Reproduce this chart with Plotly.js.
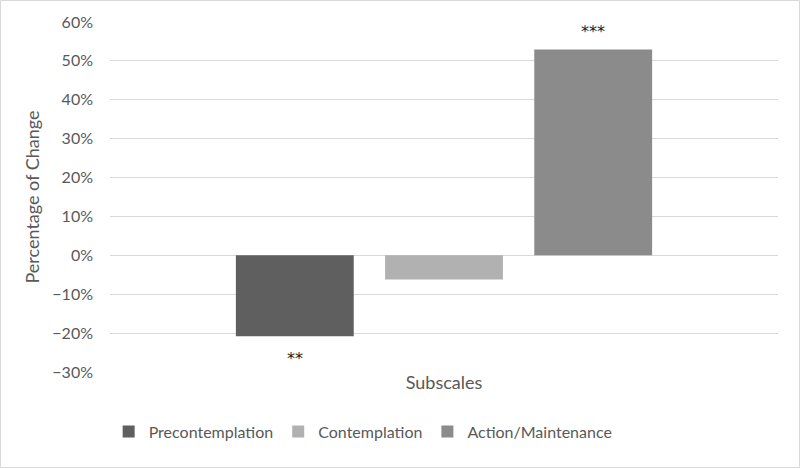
<!DOCTYPE html>
<html>
<head>
<meta charset="utf-8">
<script src="https://cdn.plot.ly/plotly-3.0.1.min.js"></script>
<style>
  html, body { margin: 0; padding: 0; background: #fff; }
  #chart { width: 800px; height: 468px; }
</style>
</head>
<body>
<div id="chart"></div>
<script>
    // Dữ liệu
    const categories = ['Subscales'];
    const seriesNames = ['Precontemplation', 'Contemplation', 'Action/Maintenance'];
    const seriesValues = [-0.208, -0.062, 0.529];
    const seriesMarks = ['**', '', '***'];
    const seriesColors = ['#5f5f5f', '#b1b1b1', '#8b8b8b'];
    const yTicks = [-0.3, -0.2, -0.1, 0, 0.1, 0.2, 0.3, 0.4, 0.5, 0.6];

    const fontFamily = 'Lato, "Open Sans", sans-serif';
    const textGray = '#595959';
    const barGap = 0.33;

    const traces = seriesNames.map((name, i) => ({
        type: 'bar',
        name: name,
        x: categories,
        y: [seriesValues[i]],
        marker: { color: seriesColors[i] },
        hoverinfo: 'none'
    }));

    // Dấu sao ý nghĩa thống kê, đặt theo vị trí cột trong nhóm
    const slot = (1 - barGap) / seriesNames.length;
    const annotations = seriesMarks.map((m, i) => ({
        xref: 'x', yref: 'y',
        x: (i - (seriesNames.length - 1) / 2) * slot,
        y: seriesValues[i],
        text: m,
        showarrow: false,
        yshift: seriesValues[i] >= 0 ? 18 : -22,
        font: { family: 'DejaVu Sans, sans-serif', size: 16, color: '#222' }
    })).filter(a => a.text);

    const layout = {
        width: 800,
        height: 468,
        paper_bgcolor: '#fff',
        plot_bgcolor: '#fff',
        font: { family: fontFamily, color: textGray, size: 15 },
        margin: { t: 22, r: 22, b: 96, l: 110 },
        barmode: 'group',
        bargap: barGap,
        bargroupgap: 0.21,
        showlegend: true,
        legend: {
            orientation: 'h',
            x: -0.002,
            xanchor: 'left',
            y: -0.17,
            yanchor: 'middle',
            font: { family: fontFamily, size: 16, color: textGray },
            itemclick: false
        },
        xaxis: {
            showticklabels: false,
            showline: false,
            ticks: '',
            title: { text: 'Subscales', standoff: 4, font: { family: fontFamily, size: 18, color: textGray } },
            automargin: false
        },
        yaxis: {
            range: [-0.3, 0.6],
            tickvals: yTicks,
            tickformat: '.0%',
            showgrid: true,
            gridcolor: '#d9d9d9',
            gridwidth: 1,
            zeroline: true,
            zerolinecolor: '#d9d9d9',
            zerolinewidth: 1,
            showline: false,
            ticks: '',
            ticklabelstandoff: 16,
            tickfont: { family: fontFamily, size: 16, color: textGray },
            title: { text: 'Percentage of Change', standoff: 8, font: { family: fontFamily, size: 18, color: textGray } },
            automargin: false
        },
        annotations: annotations,
        shapes: [{
            type: 'rect',
            xref: 'paper', yref: 'paper',
            x0: -0.1639, x1: 1.0322,
            y0: -0.2729, y1: 1.0614,
            line: { color: '#d9d9d9', width: 1 },
            fillcolor: 'rgba(0,0,0,0)',
            layer: 'below'
        }]
    };

    Plotly.newPlot('chart', traces, layout, { displayModeBar: false, staticPlot: true });
</script>
</body>
</html>
